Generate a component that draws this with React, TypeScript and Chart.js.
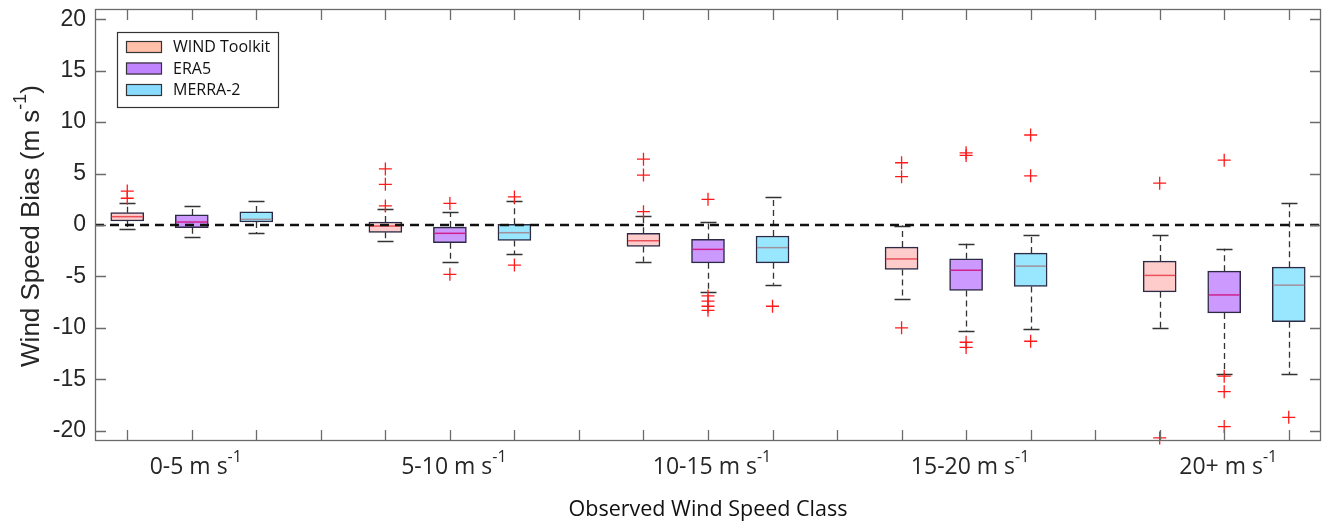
import React, { useEffect, useRef } from "react";
import { Chart, registerables } from "chart.js";

Chart.register(...registerables);

// Wind speed classes (observed), one group of three boxes each
const groupLabels = ["0-5 m s", "5-10 m s", "10-15 m s", "15-20 m s", "20+ m s"];
const seriesNames = ["WIND Toolkit", "ERA5", "MERRA-2"];

// Box statistics per class: [lower whisker, Q1, median, Q3, upper whisker]
const windToolkitStats = [
  [-0.42, 0.39, 0.81, 1.2, 2.1],
  [-1.56, -0.71, -0.1, 0.29, 1.6],
  [-3.58, -2.08, -1.53, -0.81, 0.88],
  [-7.2, -4.33, -3.3, -2.15, -0.06],
  [-10.0, -6.5, -4.9, -3.51, -0.98],
];
const era5Stats = [
  [-1.2, -0.26, 0.29, 0.98, 1.82],
  [-3.6, -1.72, -0.81, -0.2, 1.24],
  [-6.5, -3.68, -2.37, -1.4, 0.33],
  [-10.3, -6.37, -4.4, -3.29, -1.82],
  [-14.5, -8.55, -6.8, -4.49, -2.3],
];
const merra2Stats = [
  [-0.81, 0.29, 0.55, 1.27, 2.3],
  [-2.86, -1.5, -0.75, 0.07, 2.34],
  [-5.8, -3.68, -2.2, -1.07, 2.73],
  [-10.1, -5.98, -4.0, -2.73, -0.94],
  [-14.5, -9.4, -5.85, -4.1, 2.15],
];

// Outliers per class
const windToolkitOutliers = [[3.3, 2.6], [5.45, 3.95, 1.85], [6.4, 4.85, 1.3], [6.05, 4.7, -10.0], [4.07, -20.7]];
const era5Outliers = [[], [2.1, -4.8], [2.5, -6.9, -7.4, -7.9, -8.3], [7.02, 6.76, -11.4, -11.9], [6.3, -14.7, -16.2, -19.6]];
const merra2Outliers = [[], [2.73, -3.9], [-7.9], [8.75, 4.78, -11.3], [-18.7]];

const yTicks = [-20, -15, -10, -5, 0, 5, 10, 15, 20];

const boxFills = ["#ffcccc", "#cc99ff", "#99e6ff"];
const legendFills = ["#ffbfa8", "#c184ff", "#8adcff"];
const medianColors = ["#e8505a", "#d0208c", "#a0909c"];

const allStats = [windToolkitStats, era5Stats, merra2Stats];
const allOutliers = [windToolkitOutliers, era5Outliers, merra2Outliers];

// Box positions on the x axis: 4 slots per class, the 4th left empty as a gap
const slotOf = (g: number, s: number) => g * 4 + s + 1;
const slotCount = groupLabels.length * 4 - 1;

const FRAME = "#6b6b6b";
const INK = "#333333";

type Seg = { text: string; sup?: boolean };

function drawSegments(ctx: CanvasRenderingContext2D, segs: Seg[], cx: number, cy: number, size: number, family: string, color: string) {
  const base = `${size}px ${family}`;
  const small = `${Math.round(size * 0.7)}px ${family}`;
  const widths = segs.map((s) => {
    ctx.font = s.sup ? small : base;
    return ctx.measureText(s.text).width;
  });
  const total = widths.reduce((a, b) => a + b, 0);
  let x = cx - total / 2;
  ctx.fillStyle = color;
  ctx.textAlign = "left";
  ctx.textBaseline = "middle";
  segs.forEach((s, i) => {
    ctx.font = s.sup ? small : base;
    ctx.fillText(s.text, x, s.sup ? cy - size * 0.42 : cy);
    x += widths[i];
  });
}

const boxPlotPlugin = {
  id: "boxPlotParts",
  beforeDatasetsDraw(chart: any) {
    const { ctx, scales } = chart;
    const x = scales.x;
    const y = scales.y;
    ctx.save();
    allStats.forEach((stats, s) => {
      stats.forEach((st, g) => {
        const px = Math.round(x.getPixelForValue(slotOf(g, s))) + 0.5;
        const [lo, q1, , q3, hi] = st;
        ctx.strokeStyle = INK;
        ctx.lineWidth = 1.3;
        ctx.setLineDash([6, 4]);
        ctx.beginPath();
        ctx.moveTo(px, y.getPixelForValue(q1));
        ctx.lineTo(px, y.getPixelForValue(lo));
        ctx.moveTo(px, y.getPixelForValue(q3));
        ctx.lineTo(px, y.getPixelForValue(hi));
        ctx.stroke();
        ctx.setLineDash([]);
        ctx.lineWidth = 1.5;
        ctx.beginPath();
        [lo, hi].forEach((v) => {
          const py = Math.round(y.getPixelForValue(v)) + 0.5;
          ctx.moveTo(px - 8, py);
          ctx.lineTo(px + 8, py);
        });
        ctx.stroke();
      });
    });
    ctx.restore();
  },
  afterDatasetsDraw(chart: any) {
    const { ctx, scales, chartArea } = chart;
    const x = scales.x;
    const y = scales.y;
    ctx.save();
    // medians
    allStats.forEach((stats, s) => {
      stats.forEach((st, g) => {
        const px = x.getPixelForValue(slotOf(g, s));
        const py = y.getPixelForValue(st[2]);
        ctx.strokeStyle = medianColors[s];
        ctx.lineWidth = 1.5;
        ctx.beginPath();
        ctx.moveTo(px - 15.5, py);
        ctx.lineTo(px + 15.5, py);
        ctx.stroke();
      });
    });
    // zero reference line
    const y0 = y.getPixelForValue(0);
    ctx.strokeStyle = "#111111";
    ctx.lineWidth = 2.5;
    ctx.setLineDash([9, 6]);
    ctx.beginPath();
    ctx.moveTo(chartArea.left, y0);
    ctx.lineTo(chartArea.right, y0);
    ctx.stroke();
    ctx.setLineDash([]);

    // frame and inward ticks
    const { left, right, top, bottom } = chartArea;
    ctx.strokeStyle = FRAME;
    ctx.lineWidth = 1.3;
    ctx.strokeRect(left + 0.5, top + 0.5, right - left - 1, bottom - top - 1);
    ctx.beginPath();
    const tl = 11;
    for (let i = 1; i <= slotCount; i++) {
      const px = Math.round(x.getPixelForValue(i)) + 0.5;
      ctx.moveTo(px, bottom);
      ctx.lineTo(px, bottom - tl);
      ctx.moveTo(px, top);
      ctx.lineTo(px, top + tl);
    }
    yTicks.forEach((v) => {
      const py = Math.round(y.getPixelForValue(v)) + 0.5;
      ctx.moveTo(left, py);
      ctx.lineTo(left + tl, py);
      ctx.moveTo(right, py);
      ctx.lineTo(right - tl, py);
    });
    ctx.stroke();
    ctx.restore();
  },
  afterDraw(chart: any) {
    const { ctx, scales, chartArea } = chart;
    const x = scales.x;
    ctx.save();

    // legend
    const lx = chartArea.left + 22;
    const ly = chartArea.top + 23;
    ctx.fillStyle = "#ffffff";
    ctx.fillRect(lx, ly, 161, 75);
    ctx.strokeStyle = INK;
    ctx.lineWidth = 1.2;
    ctx.strokeRect(lx + 0.5, ly + 0.5, 161, 75);
    seriesNames.forEach((name, s) => {
      const cy = ly + 15 + s * 21.5;
      ctx.fillStyle = legendFills[s];
      ctx.fillRect(lx + 9, cy - 6, 36, 12);
      ctx.strokeStyle = INK;
      ctx.lineWidth = 1.2;
      ctx.strokeRect(lx + 9.5, cy - 5.5, 35, 11);
      ctx.fillStyle = "#111111";
      ctx.font = "16px 'Open Sans'";
      ctx.textAlign = "left";
      ctx.textBaseline = "middle";
      ctx.fillText(name, lx + 56, cy + 0.5);
    });

    // class labels under the middle box of each group
    groupLabels.forEach((label, g) => {
      const cx = x.getPixelForValue(slotOf(g, 1)) + 4;
      drawSegments(ctx, [{ text: label }, { text: "-1", sup: true }], cx, 467, 23, "'Open Sans'", "#262626");
    });

    // x axis title
    drawSegments(ctx, [{ text: "Observed Wind Speed Class" }], (chartArea.left + chartArea.right) / 2, 510, 21.5, "'Open Sans'", "#111111");

    // y axis title
    ctx.translate(32, 226);
    ctx.rotate(-Math.PI / 2);
    drawSegments(
      ctx,
      [{ text: "Wind Speed Bias (m s" }, { text: "-1", sup: true }, { text: ")" }],
      0,
      0,
      26,
      "'Liberation Sans'",
      "#262626"
    );
    ctx.restore();
  },
};

export default function App() {
  const canvasRef = useRef<HTMLCanvasElement | null>(null);

  useEffect(() => {
    if (!canvasRef.current) return;

    const boxDatasets = allStats.map((stats, s) => ({
      type: "bar" as const,
      label: seriesNames[s],
      data: stats.map((st, g) => ({ x: slotOf(g, s), y: [st[1], st[3]] })),
      backgroundColor: boxFills[s],
      borderColor: "#2b2b45",
      borderWidth: 1.5,
      borderSkipped: false,
      barThickness: 33,
      grouped: false,
      order: 2,
    }));

    const outlierDatasets = allOutliers.map((groups, s) => ({
      type: "scatter" as const,
      label: seriesNames[s] + " outliers",
      data: groups.flatMap((vals, g) => vals.map((v) => ({ x: slotOf(g, s), y: v }))),
      pointStyle: "cross",
      pointRadius: 6.5,
      pointBorderColor: "#ff1a1a",
      pointBorderWidth: 1.3,
      borderColor: "#ff1a1a",
      showLine: false,
      clip: false,
      order: 1,
    }));

    const chart = new Chart(canvasRef.current, {
      type: "bar",
      data: { datasets: [...boxDatasets, ...outlierDatasets] as any },
      options: {
        animation: false,
        responsive: true,
        maintainAspectRatio: false,
        devicePixelRatio: 1,
        layout: { autoPadding: false, padding: { top: 9, right: 1, left: 0, bottom: 0 } },
        plugins: { legend: { display: false }, tooltip: { enabled: false } },
        scales: {
          x: {
            type: "linear",
            offset: false,
            min: 0.5,
            max: slotCount + 0.5,
            grid: { display: false, drawTicks: false, offset: false },
            border: { display: false },
            ticks: { display: false },
            afterFit: (scale: any) => {
              scale.height = 84;
              scale.paddingLeft = 0;
              scale.paddingRight = 0;
              scale.paddingTop = 0;
              scale.paddingBottom = 0;
            },
          },
          y: {
            type: "linear",
            min: -21,
            max: 21,
            grid: { display: false, drawTicks: false },
            border: { display: false },
            afterBuildTicks: (scale: any) => {
              scale.ticks = yTicks.map((v) => ({ value: v }));
            },
            ticks: {
              padding: 9,
              color: "#262626",
              font: { family: "'Liberation Sans'", size: 23 },
            },
            afterFit: (scale: any) => {
              scale.width = 95;
              scale.paddingTop = 0;
              scale.paddingBottom = 0;
              scale.paddingLeft = 0;
              scale.paddingRight = 0;
            },
          },
        },
      },
      plugins: [boxPlotPlugin],
    });

    return () => chart.destroy();
  }, []);

  return (
    <div style={{ position: "absolute", left: 0, top: 0, width: 1322, height: 525, background: "#ffffff" }}>
      <canvas ref={canvasRef} />
    </div>
  );
}
